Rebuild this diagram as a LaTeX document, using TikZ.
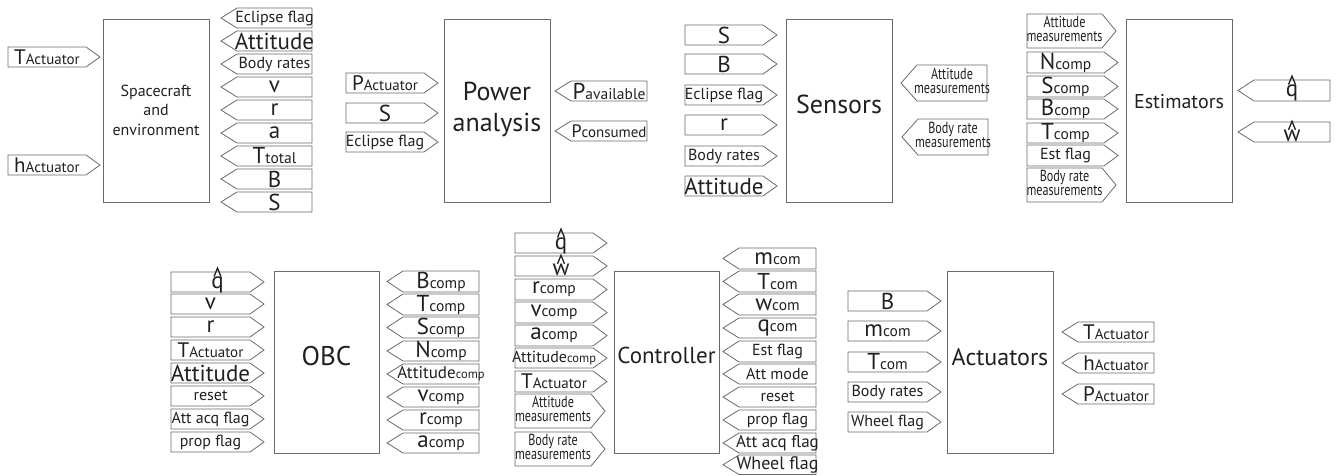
\documentclass[tikz,border=0pt]{standalone}
\usepackage{fontspec}
\usepackage{graphicx}
\setmainfont{PT Sans}
\definecolor{linegray}{HTML}{6A6A6A}
\definecolor{inkc}{HTML}{231F20}
\newcommand\fs[1]{\fontsize{#1}{#1}\selectfont}
\newcommand\Lg[1]{{\fs{23}#1}}
\newcommand\Md[1]{{\fs{16}#1}}
\newcommand\sym[2]{{\fs{23}#1}{\fs{15.5}#2}}
\newcommand\syma[2]{{\fs{21}#1}{\fs{15}#2}}
\newcommand\twol[2]{{\fontsize{16}{14}\selectfont\scalebox{0.76}[1]{\begin{tabular}{@{}c@{}}#1\\#2\end{tabular}}}}
% right-pointing tag: name, left x, tip x, top, bottom, text
\newcommand\intag[6]{%
  \draw[tagline] (#2,#4) -- ({#3-14},#4) -- (#3,{(#4+#5)/2}) -- ({#3-14},#5) -- (#2,#5) -- cycle;
  \node[tagtext] (#1) at ({(#2+#3-14)/2},{(#4+#5)/2}) {#6};}
% left-pointing tag: name, tip x, right x, top, bottom, text
\newcommand\outtag[6]{%
  \draw[tagline] (#2,{(#4+#5)/2}) -- ({#2+16},#4) -- (#3,#4) -- (#3,#5) -- ({#2+16},#5) -- cycle;
  \node[tagtext] (#1) at ({(#2+16+#3)/2},{(#4+#5)/2}) {#6};}
% hatted symbol: name, x, baseline y, letter
\newcommand\hatsym[4]{%
  \node[tagtext,anchor=base] (#1) at (#2,#3) {\fs{23}#4};
  \draw[hatline] ([xshift=-3.5pt,yshift=-0.5pt]#1.north) -- ([yshift=8pt]#1.north) -- ([xshift=3.5pt,yshift=-0.5pt]#1.north);}
\tikzset{
  tagline/.style={draw=linegray,line width=0.8pt,line join=miter},
  tagtext/.style={inner sep=0pt,text=inkc},
  hatline/.style={draw=inkc,line width=1.3pt},
  blockbox/.style={draw=linegray,line width=0.9pt,inner sep=0pt},
  blocklabel/.style={text=inkc,align=center,inner sep=0pt}
}
\begin{document}
\begin{tikzpicture}[x=1pt,y=-1pt]
\useasboundingbox (0,0) rectangle (1341,475);
% ---------- Spacecraft and environment ----------
\draw[blockbox] (103,19) rectangle (209,202);
\node[blocklabel,font=\fontsize{16}{19.5}\selectfont] (scl) at (156,110) {Spacecraft\\and\\environment};
\intag{sci1}{8}{100}{47}{67}{\syma{T}{Actuator}}
\intag{sci2}{8}{100}{155}{175}{\syma{h}{Actuator}}
\outtag{sco1}{221}{312}{8}{28}{\Md{Eclipse flag}}
\outtag{sco2}{221}{312}{31}{51}{\Lg{Attitude}}
\outtag{sco3}{221}{312}{54}{74}{\Md{Body rates}}
\outtag{sco4}{221}{312}{77}{97}{\Lg{v}}
\outtag{sco5}{221}{312}{100}{120}{\Lg{r}}
\outtag{sco6}{221}{312}{123}{143}{\Lg{a}}
\outtag{sco7}{221}{312}{146}{166}{\sym{T}{total}}
\outtag{sco8}{221}{312}{169}{189}{\Lg{B}}
\outtag{sco9}{221}{312}{192}{212}{\Lg{S}}
% ---------- Power analysis ----------
\draw[blockbox] (444,19) rectangle (550,202);
\node[blocklabel,font=\fontsize{26}{31}\selectfont] (pal) at (497,109) {Power\\analysis};
\intag{pai1}{346}{438}{73}{93}{\syma{P}{Actuator}}
\intag{pai2}{346}{438}{103}{123}{\Lg{S}}
\intag{pai3}{346}{438}{132}{152}{\Md{Eclipse flag}}
\outtag{pao1}{555}{647}{81}{101}{\sym{P}{available}}
\outtag{pao2}{555}{647}{121}{141}{{\fs{18}P}{\fs{15}consumed}}
% ---------- Sensors ----------
\draw[blockbox] (786,19) rectangle (892,202);
\node[blocklabel] (snl) at (839,104) {\fs{26}Sensors};
\intag{sni1}{685}{777}{25}{45}{\Lg{S}}
\intag{sni2}{685}{777}{54}{74}{\Lg{B}}
\intag{sni3}{685}{777}{85}{105}{\Md{Eclipse flag}}
\intag{sni4}{685}{777}{115}{135}{\Lg{r}}
\intag{sni5}{685}{777}{146}{166}{\Md{Body rates}}
\intag{sni6}{685}{777}{176}{196}{\Lg{Attitude}}
\outtag{sno1}{901}{987}{65}{101}{\twol{Attitude}{measurements}}
\outtag{sno2}{902}{988}{119}{155}{\twol{Body rate}{measurements}}
% ---------- Estimators ----------
\draw[blockbox] (1126,19) rectangle (1232,202);
\node[blocklabel] (esl) at (1179,102) {\fs{20}Estimators};
\intag{esi1}{1027}{1116}{14}{48}{\twol{Attitude}{measurements}}
\intag{esi2}{1027}{1118}{52}{73}{\sym{N}{comp}}
\intag{esi3}{1027}{1118}{76}{97}{\sym{S}{comp}}
\intag{esi4}{1027}{1118}{99}{119}{\sym{B}{comp}}
\intag{esi5}{1027}{1118}{123}{143}{\sym{T}{comp}}
\intag{esi6}{1027}{1118}{145}{166}{\Md{Est flag}}
\intag{esi7}{1027}{1116}{168}{202}{\twol{Body rate}{measurements}}
\outtag{eso1}{1238}{1330}{80}{101}{}
\hatsym{esq}{1292}{96}{q}
\outtag{eso2}{1238}{1330}{122}{142}{}
\hatsym{esw}{1292}{141}{w}
% ---------- OBC ----------
\draw[blockbox] (274,271) rectangle (379,453);
\node[blocklabel] (obl) at (326.5,356) {\fs{27}OBC};
\intag{obi1}{171}{264}{272}{292}{}
\hatsym{obq}{217.5}{288}{q}
\intag{obi2}{171}{264}{294}{314}{\Lg{v}}
\intag{obi3}{171}{264}{317}{337}{\Lg{r}}
\intag{obi4}{171}{264}{340}{360}{\syma{T}{Actuator}}
\intag{obi5}{171}{264}{363}{383}{\Lg{Attitude}}
\intag{obi6}{171}{264}{386}{406}{\Md{reset}}
\intag{obi7}{171}{264}{409}{429}{\Md{Att acq flag}}
\intag{obi8}{171}{264}{432}{452}{\Md{prop flag}}
\outtag{obo1}{387}{479}{271}{292}{\sym{B}{comp}}
\outtag{obo2}{387}{479}{294}{315}{\sym{T}{comp}}
\outtag{obo3}{387}{479}{317}{338}{\sym{S}{comp}}
\outtag{obo4}{387}{479}{341}{361}{\sym{N}{comp}}
\outtag{obo5}{387}{479}{364}{384}{{\fs{17}Attitude}{\fs{12.5}comp}}
\outtag{obo6}{387}{479}{387}{407}{\sym{v}{comp}}
\outtag{obo7}{387}{479}{410}{430}{\sym{r}{comp}}
\outtag{obo8}{387}{479}{433}{453}{\sym{a}{comp}}
% ---------- Controller ----------
\draw[blockbox] (614,271) rectangle (719,453);
\node[blocklabel] (ctl) at (666.5,355) {\fs{23}Controller};
\intag{cti1}{515}{607}{233}{253}{}
\hatsym{ctq}{561}{249}{q}
\intag{cti2}{515}{607}{256}{276}{}
\hatsym{ctw}{561}{275}{w}
\intag{cti3}{515}{607}{279}{300}{\sym{r}{comp}}
\intag{cti4}{515}{607}{302}{323}{\sym{v}{comp}}
\intag{cti5}{515}{607}{325}{346}{\sym{a}{comp}}
\intag{cti6}{515}{607}{348}{368}{{\fs{16}Attitude}{\fs{12.5}comp}}
\intag{cti7}{515}{607}{371}{392}{\syma{T}{Actuator}}
\intag{cti8}{515}{605}{394}{428}{\twol{Attitude}{measurements}}
\intag{cti9}{515}{605}{432}{466}{\twol{Body rate}{measurements}}
\outtag{cto1}{723}{816}{248}{269}{\sym{m}{com}}
\outtag{cto2}{723}{816}{271}{292}{\sym{T}{com}}
\outtag{cto3}{723}{816}{294}{315}{\sym{w}{com}}
\outtag{cto4}{723}{816}{318}{338}{\sym{q}{com}}
\outtag{cto5}{723}{816}{341}{362}{\Md{Est flag}}
\outtag{cto6}{723}{816}{364}{384}{\Md{Att mode}}
\outtag{cto7}{723}{816}{387}{407}{\Md{reset}}
\outtag{cto8}{723}{816}{410}{430}{\Md{prop flag}}
\outtag{cto9}{723}{816}{433}{453}{{\fs{17}Att acq flag}}
\outtag{cto10}{723}{816}{455}{474.5}{{\fs{18}Wheel flag}}
% ---------- Actuators ----------
\draw[blockbox] (947,271) rectangle (1053,453);
\node[blocklabel] (acl) at (1000,357) {\fs{24}Actuators};
\intag{aci1}{848}{941}{291}{311}{\Lg{B}}
\intag{aci2}{848}{941}{321}{341}{\sym{m}{com}}
\intag{aci3}{848}{941}{352}{372}{\sym{T}{com}}
\intag{aci4}{848}{941}{382}{402}{\Md{Body rates}}
\intag{aci5}{848}{941}{412}{432}{\Md{Wheel flag}}
\outtag{aco1}{1062}{1154}{322}{342}{\syma{T}{Actuator}}
\outtag{aco2}{1062}{1154}{353}{373}{\syma{h}{Actuator}}
\outtag{aco3}{1062}{1154}{384}{404}{\syma{P}{Actuator}}
\end{tikzpicture}
\end{document}
